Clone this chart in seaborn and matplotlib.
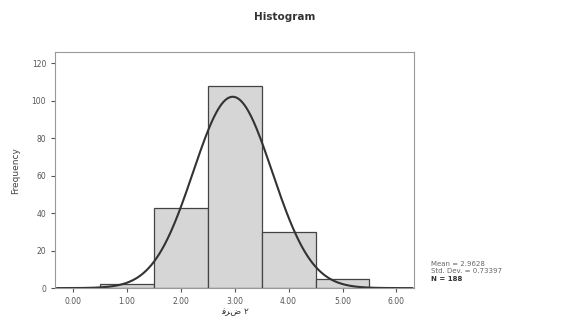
import numpy as np
import pandas as pd
import matplotlib
matplotlib.use("Agg")
import matplotlib.pyplot as plt
import seaborn as sns

# histogram data (bin centres and frequencies)
scores = [1, 2, 3, 4, 5]
counts = [2, 43, 108, 30, 5]
x_ticks = [0, 1, 2, 3, 4, 5, 6]
y_ticks = [0, 20, 40, 60, 80, 100, 120]
stats_lines = ["Mean = 2.9628", "Std. Dev. = 0.73397", "N = 188"]
# "فرض ۲" written in presentation forms so it shows joined without shaping
x_label = "\uFED3\uFEAE\uFEBD \u06F2"

sns.set_style("white")
plt.rcParams["font.family"] = ["DejaVu Sans"]

df = pd.DataFrame({"score": scores, "count": counts})

fig = plt.figure(figsize=(5.69, 3.18), dpi=100)
ax = fig.add_axes([0.097, 0.094, 0.631, 0.742])

sns.histplot(
    data=df,
    x="score",
    weights="count",
    discrete=True,
    color="#d6d6d6",
    edgecolor="#444444",
    linewidth=0.9,
    alpha=1,
    ax=ax,
)

# normal curve from the sample
vals = np.repeat(scores, counts)
mu, sd, n = vals.mean(), vals.std(ddof=1), len(vals)
xs = np.linspace(-0.3, 6.3, 400)
ys = n * np.exp(-0.5 * ((xs - mu) / sd) ** 2) / (sd * np.sqrt(2 * np.pi))
sns.lineplot(x=xs, y=ys, color="#333333", linewidth=1.5, ax=ax)

ax.set_xlim(-0.33, 6.33)
ax.set_ylim(0, 126)
ax.set_xticks(x_ticks)
ax.set_xticklabels([f"{t:.2f}" for t in x_ticks])
ax.set_yticks(y_ticks)
ax.tick_params(axis="both", labelsize=5.5, colors="#555555", length=3,
               width=0.8, direction="out", bottom=True, left=True)
for s in ax.spines.values():
    s.set_color("#999999")
    s.set_linewidth(0.8)

ax.set_ylabel("Frequency", fontsize=6.5, color="#444444", labelpad=8)
ax.set_xlabel(x_label, fontsize=6.5, color="#333333", labelpad=1)
fig.text(0.5, 0.945, "Histogram", ha="center", va="center",
         fontsize=7.5, color="#333333", fontweight="bold")

fig.text(0.758, 0.165, stats_lines[0], fontsize=5, color="#666666")
fig.text(0.758, 0.14, stats_lines[1], fontsize=5, color="#666666")
fig.text(0.758, 0.115, stats_lines[2], fontsize=5, color="#333333",
         fontweight="bold")

fig.savefig("out.png", dpi=100)
